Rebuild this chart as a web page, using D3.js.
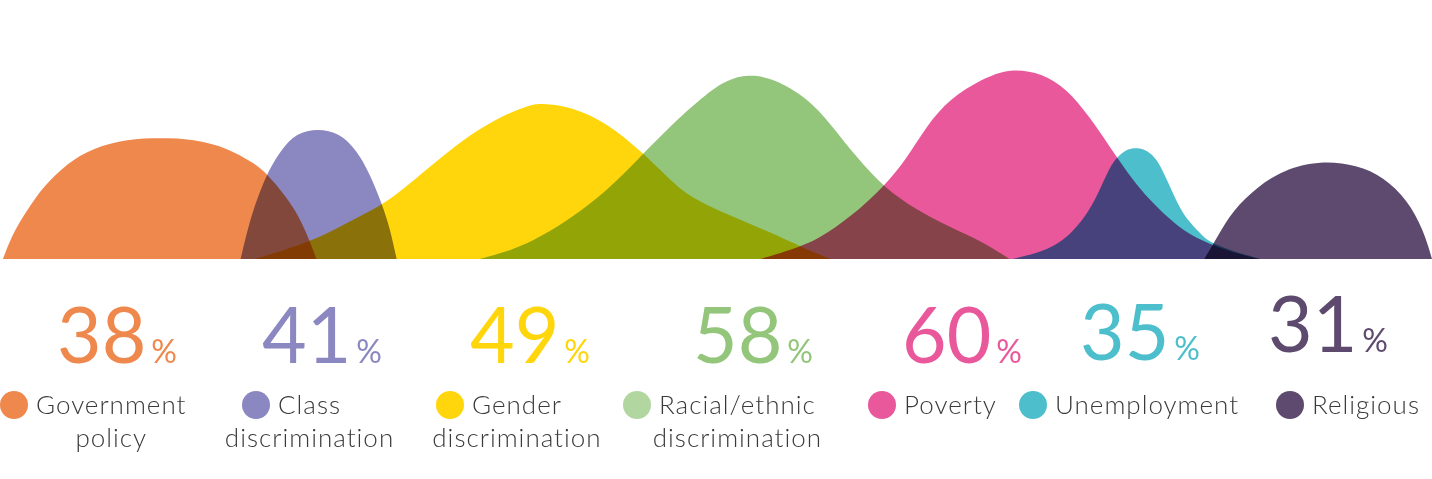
<!DOCTYPE html>
<html>
<head>
<meta charset="utf-8">
<script src="https://cdn.jsdelivr.net/npm/d3@7"></script>
<style>
  body { margin: 0; background: #fff; }
  svg { display: block; }
</style>
</head>
<body>
<svg id="chart" width="1432" height="479"></svg>
<script>
// categories and values
const labelLines = [
  ["Government", "policy"],
  ["Class", "discrimination"],
  ["Gender", "discrimination"],
  ["Racial/ethnic", "discrimination"],
  ["Poverty"],
  ["Unemployment"],
  ["Religious"]
];
const values = [38, 41, 49, 58, 60, 35, 31];
const colors = ["#EF884D", "#8B87C1", "#FFD50B", "#93C57B", "#E9589A", "#4DBECC", "#5D4A6E"];
const dotColors = ["#EF884D", "#8B87C1", "#FFD50B", "#B2D69F", "#E9589A", "#4DBECC", "#5D4A6E"];

// shape of each hump: [position across the band (0-100), percent]
const govCurve = [[0.2,0],[0.9,8.2],[1.9,15.4],[3.0,22.6],[4.7,30.2],[6.5,34.9],[8.9,37.7],[11.2,38],[13.5,37.7],[15.9,34.9],[17.7,30.2],[18.6,27.0],[20.0,19.5],[20.9,13.2],[21.6,6.0],[22.1,0]];
const classCurve = [[16.8,0],[17.5,13.2],[18.2,21.7],[18.7,27.3],[19.6,34.2],[20.7,39.6],[22.2,41],[23.7,39.6],[24.9,34.2],[25.8,27.0],[26.7,17.0],[27.2,10.1],[27.7,0]];
const genderCurve = [[17.8,0],[21.9,5.7],[24.2,11.3],[26.7,17.0],[28.1,21.7],[30.0,28.9],[32.3,37.4],[34.7,44.3],[37.0,48.4],[37.7,49],[40.0,47.8],[42.4,42.7],[44.7,34.2],[47.0,23.9],[48.2,19.5],[50.5,14.5],[52.9,10.1],[55.2,5.5],[56.6,2.5],[58.0,0]];
const racialCurve = [[33.5,0],[35.8,2.8],[37.7,6.8],[40.0,13.2],[42.4,21.5],[44.7,32.0],[47.0,42.7],[49.4,52.2],[50.8,56.3],[52.2,58],[54.0,56.9],[56.4,50.6],[58.0,42.4],[59.8,32.0],[61.7,22.6],[64.0,15.4],[66.3,10.1],[68.6,5.5],[70.5,0]];
const povertyCurve = [[53.1,0],[55.4,3.1],[57.1,6.0],[59.4,13.2],[61.7,22.6],[63.3,31.4],[64.7,41.8],[66.3,50.3],[68.6,56.6],[70.5,60],[72.8,58.4],[74.5,53.4],[76.1,44.6],[77.5,35.2],[79.1,24.8],[80.3,18.5],[81.5,13.2],[82.6,9.1],[83.8,6.0],[86.1,1.9],[88.0,0]];
const unemploymentCurve = [[70.7,0],[73.3,2.8],[74.9,8.2],[76.1,15.4],[76.8,21.7],[77.5,28.9],[78.0,32.0],[78.7,34.6],[79.4,35],[80.1,34.2],[80.8,31.4],[81.5,24.8],[82.2,17.6],[82.9,12.3],[83.8,8.2],[84.4,5.3],[86.1,2.5],[88.0,0]];
const religiousCurve = [[84.1,0],[85.0,6.9],[86.1,15.4],[87.8,22.6],[89.6,28.0],[92.2,31],[94.8,29.5],[96.6,25.8],[98.3,18.5],[99.4,9.1],[100,0]];
const curves = [govCurve, classCurve, genderCurve, racialCurve, povertyCurve, unemploymentCurve, religiousCurve];

// layout of the text block under the humps
const numberX = [57, 262, 470, 693, 902, 1080, 1268];
const numberY = [363, 363, 363, 363, 363, 360, 352];
const dotX = [14, 256, 450, 637, 882, 1033, 1290];

const width = 1432, height = 479;
const svg = d3.select("#chart");

svg.append("rect").attr("width", width).attr("height", height).attr("fill", "#fff");

const x = d3.scaleLinear().domain([0, 100]).range([0, width]);
const y = d3.scaleLinear().domain([0, 60]).range([259, 68]);

const area = d3.area()
  .x(d => x(d[0]))
  .y0(y(0))
  .y1(d => y(d[1]))
  .curve(d3.curveBasis);

const humps = svg.append("g").style("isolation", "isolate");
humps.selectAll("path")
  .data(curves)
  .enter().append("path")
  .attr("d", area)
  .attr("fill", (d, i) => colors[i])
  .style("mix-blend-mode", "multiply");

// big percentages
const nums = svg.append("g").selectAll("text")
  .data(values)
  .enter().append("text")
  .attr("x", (d, i) => numberX[i])
  .attr("y", (d, i) => numberY[i])
  .attr("fill", (d, i) => colors[i])
  .attr("font-family", "Lato, sans-serif");
nums.append("tspan").attr("font-size", 77).attr("font-weight", 400).text(d => d);
nums.append("tspan").attr("font-size", 32).attr("dx", 5).text("%");

// legend dots and labels
const legend = svg.append("g").selectAll("g")
  .data(labelLines)
  .enter().append("g");

legend.append("circle")
  .attr("cx", (d, i) => dotX[i])
  .attr("cy", 405)
  .attr("r", 14)
  .attr("fill", (d, i) => dotColors[i]);

legend.each(function (lines, i) {
  const g = d3.select(this);
  const first = g.append("text")
    .attr("x", dotX[i] + 22)
    .attr("y", 414)
    .attr("fill", "#3a3a3a")
    .attr("font-family", "Lato, sans-serif")
    .attr("font-weight", 300)
    .attr("font-size", 26)
    .attr("letter-spacing", 1)
    .text(lines[0]);
  if (lines.length > 1) {
    const cx = dotX[i] + 22 + first.node().getComputedTextLength() / 2;
    first.attr("x", cx).attr("text-anchor", "middle");
    g.append("text")
      .attr("x", cx)
      .attr("y", 447)
      .attr("text-anchor", "middle")
      .attr("fill", "#3a3a3a")
      .attr("font-family", "Lato, sans-serif")
      .attr("font-weight", 300)
      .attr("font-size", 26)
      .attr("letter-spacing", 1)
      .text(lines[1]);
  }
});
</script>
</body>
</html>
